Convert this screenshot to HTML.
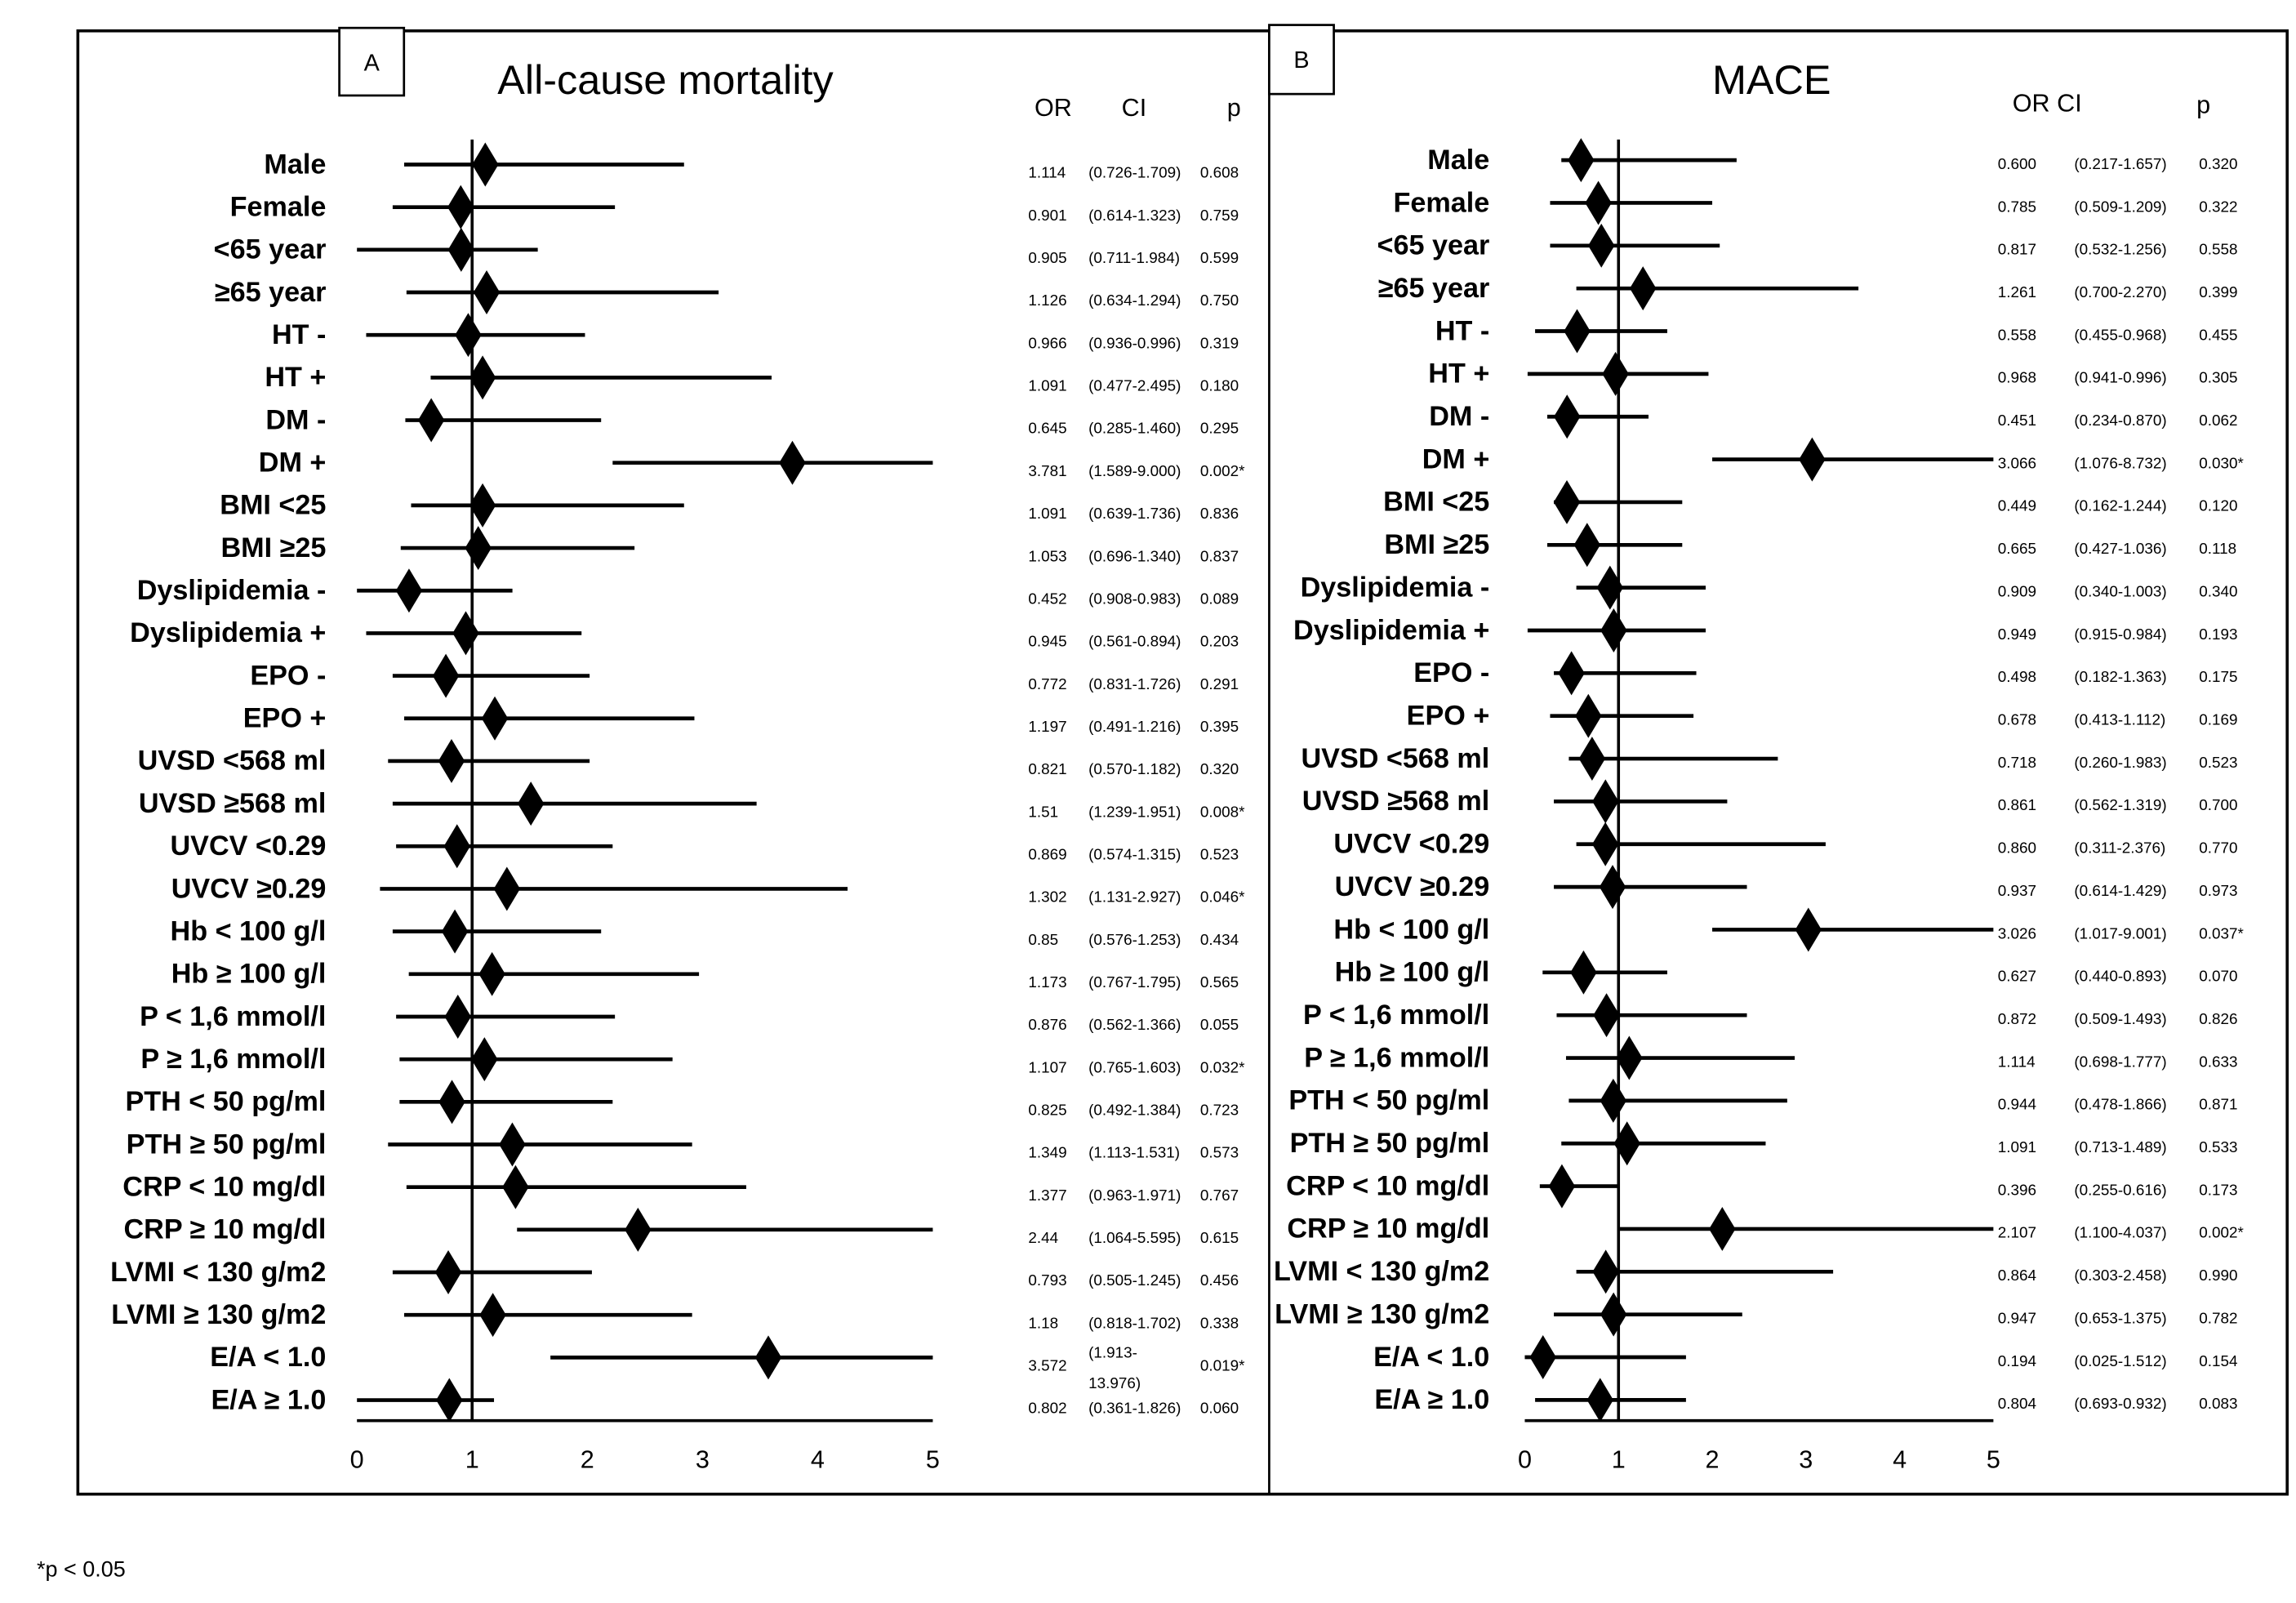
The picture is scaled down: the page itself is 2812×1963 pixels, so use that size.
<!DOCTYPE html>
<html><head><meta charset="utf-8"><style>
html,body{margin:0;padding:0;background:#fff}
svg{display:block}
text{font-family:"Liberation Sans Narrow","Liberation Sans",sans-serif;fill:#000}
.lbl{font-weight:bold;font-size:19px}
.st{font-size:10.5px}
</style></head><body>
<svg id="chart" width="2812" height="1963" viewBox="0 0 1563 1091.1" xmlns="http://www.w3.org/2000/svg">
<rect x="53" y="21" width="1504" height="996" fill="none" stroke="#000" stroke-width="2"/>
<line x1="864" y1="21" x2="864" y2="1017" stroke="#000" stroke-width="1.5"/>
<rect x="231" y="19" width="44" height="46" fill="#fff" stroke="#000" stroke-width="1.5"/>
<text x="253" y="48" text-anchor="middle" font-size="16">A</text>
<rect x="864" y="17" width="44" height="47" fill="#fff" stroke="#000" stroke-width="1.5"/>
<text x="886" y="46" text-anchor="middle" font-size="16">B</text>
<text x="453" y="64" text-anchor="middle" font-size="28">All-cause mortality</text>
<text x="1206" y="64" text-anchor="middle" font-size="28">MACE</text>
<text x="717" y="79" text-anchor="middle" font-size="17">OR</text>
<text x="772" y="79" text-anchor="middle" font-size="17">CI</text>
<text x="840" y="79" text-anchor="middle" font-size="17">p</text>
<text x="1370" y="76" font-size="17">OR CI</text>
<text x="1500" y="77" text-anchor="middle" font-size="17">p</text>
<text x="25" y="1073" font-size="15">*p &lt; 0.05</text>
<g id="plots"></g>
</svg>
<script>
const labels=["Male","Female","<65 year","≥65 year","HT -","HT +","DM -","DM +","BMI <25","BMI ≥25","Dyslipidemia -","Dyslipidemia +","EPO -","EPO +","UVSD <568 ml","UVSD ≥568 ml","UVCV <0.29","UVCV ≥0.29","Hb < 100 g/l","Hb ≥ 100 g/l","P < 1,6 mmol/l","P ≥ 1,6 mmol/l","PTH < 50 pg/ml","PTH ≥ 50 pg/ml","CRP < 10 mg/dl","CRP ≥ 10 mg/dl","LVMI < 130 g/m2","LVMI ≥ 130 g/m2","E/A < 1.0","E/A ≥ 1.0"];
const ticks=[0,1,2,3,4,5];
const aOR=[1.114,0.901,0.905,1.126,0.966,1.091,0.645,3.781,1.091,1.053,0.452,0.945,0.772,1.197,0.821,1.51,0.869,1.302,0.85,1.173,0.876,1.107,0.825,1.349,1.377,2.44,0.793,1.18,3.572,0.802];
const aLo=[0.41,0.31,0,0.43,0.08,0.64,0.42,2.22,0.47,0.38,0,0.08,0.31,0.41,0.27,0.31,0.34,0.2,0.31,0.45,0.34,0.37,0.37,0.27,0.43,1.39,0.31,0.41,1.68,0];
const aHi=[2.84,2.24,1.57,3.14,1.98,3.6,2.12,5,2.84,2.41,1.35,1.95,2.02,2.93,2.02,3.47,2.22,4.26,2.12,2.97,2.24,2.74,2.22,2.91,3.38,5,2.04,2.91,5,1.19];
const aORtxt=["1.114","0.901","0.905","1.126","0.966","1.091","0.645","3.781","1.091","1.053","0.452","0.945","0.772","1.197","0.821","1.51","0.869","1.302","0.85","1.173","0.876","1.107","0.825","1.349","1.377","2.44","0.793","1.18","3.572","0.802"];
const aCI=["(0.726-1.709)","(0.614-1.323)","(0.711-1.984)","(0.634-1.294)","(0.936-0.996)","(0.477-2.495)","(0.285-1.460)","(1.589-9.000)","(0.639-1.736)","(0.696-1.340)","(0.908-0.983)","(0.561-0.894)","(0.831-1.726)","(0.491-1.216)","(0.570-1.182)","(1.239-1.951)","(0.574-1.315)","(1.131-2.927)","(0.576-1.253)","(0.767-1.795)","(0.562-1.366)","(0.765-1.603)","(0.492-1.384)","(1.113-1.531)","(0.963-1.971)","(1.064-5.595)","(0.505-1.245)","(0.818-1.702)","(1.913-|13.976)","(0.361-1.826)"];
const aP=["0.608","0.759","0.599","0.750","0.319","0.180","0.295","0.002*","0.836","0.837","0.089","0.203","0.291","0.395","0.320","0.008*","0.523","0.046*","0.434","0.565","0.055","0.032*","0.723","0.573","0.767","0.615","0.456","0.338","0.019*","0.060"];
const bOR=[0.600,0.785,0.817,1.261,0.558,0.968,0.451,3.066,0.449,0.665,0.909,0.949,0.498,0.678,0.718,0.861,0.860,0.937,3.026,0.627,0.872,1.114,0.944,1.091,0.396,2.107,0.864,0.947,0.194,0.804];
const bLo=[0.39,0.27,0.27,0.55,0.11,0.03,0.24,2.0,0.31,0.24,0.55,0.03,0.31,0.27,0.47,0.31,0.55,0.31,2.0,0.19,0.34,0.44,0.47,0.39,0.16,1.0,0.55,0.31,0,0.11];
const bHi=[2.26,2.0,2.08,3.56,1.52,1.96,1.32,5,1.68,1.68,1.93,1.93,1.83,1.8,2.7,2.16,3.21,2.37,5,1.52,2.37,2.88,2.8,2.57,1.0,5,3.29,2.32,1.72,1.72];
const bORtxt=["0.600","0.785","0.817","1.261","0.558","0.968","0.451","3.066","0.449","0.665","0.909","0.949","0.498","0.678","0.718","0.861","0.860","0.937","3.026","0.627","0.872","1.114","0.944","1.091","0.396","2.107","0.864","0.947","0.194","0.804"];
const bCI=["(0.217-1.657)","(0.509-1.209)","(0.532-1.256)","(0.700-2.270)","(0.455-0.968)","(0.941-0.996)","(0.234-0.870)","(1.076-8.732)","(0.162-1.244)","(0.427-1.036)","(0.340-1.003)","(0.915-0.984)","(0.182-1.363)","(0.413-1.112)","(0.260-1.983)","(0.562-1.319)","(0.311-2.376)","(0.614-1.429)","(1.017-9.001)","(0.440-0.893)","(0.509-1.493)","(0.698-1.777)","(0.478-1.866)","(0.713-1.489)","(0.255-0.616)","(1.100-4.037)","(0.303-2.458)","(0.653-1.375)","(0.025-1.512)","(0.693-0.932)"];
const bP=["0.320","0.322","0.558","0.399","0.455","0.305","0.062","0.030*","0.120","0.118","0.340","0.193","0.175","0.169","0.523","0.700","0.770","0.973","0.037*","0.070","0.826","0.633","0.871","0.533","0.173","0.002*","0.990","0.782","0.154","0.083"];

const NS="http://www.w3.org/2000/svg";
const root=document.getElementById('plots');
function mk(tag,attrs,parent){const e=document.createElementNS(NS,tag);for(const k in attrs)e.setAttribute(k,attrs[k]);(parent||root).appendChild(e);return e;}

function panel(cfg){
  const g=mk('g',{});
  
  
  const x=v=>cfg.x0+v*cfg.unit;
  const y=i=>cfg.y0+i*cfg.step;
  const ax=mk('line',{x1:x(0),y1:967,x2:x(5),y2:967,stroke:'#000','stroke-width':2},g);
  
  
  const ref=mk('line',{x1:x(1),y1:cfg.refTop,x2:x(1),y2:967,stroke:'#000','stroke-width':2},g);
  
  
  ticks.forEach(t=>{
    const tt=mk('text',{x:x(t),y:999,'text-anchor':'middle','font-size':17},g);
    tt.textContent=t;
    
    
  });
  labels.forEach((lab,i)=>{
    const yy=y(i);
    const t=mk('text',{x:cfg.labelX,y:yy+6,'text-anchor':'end','class':'lbl'},g);
    t.textContent=lab;
    
    
    const l=mk('line',{x1:x(cfg.lo[i]),y1:yy,x2:x(cfg.hi[i]),y2:yy,stroke:'#000','stroke-width':2.6},g);
    
    
    const cx=x(cfg.or[i]);
    const d=mk('polygon',{points:`${cx},${yy-15} ${cx+9},${yy} ${cx},${yy+15} ${cx-9},${yy}`,fill:'#000'},g);
    
    
    const sy=yy+cfg.sdy;
    const o=mk('text',{x:cfg.orX,y:sy,'class':'st'},g);
    o.textContent=cfg.orTxt[i];
    
    
    const parts=cfg.ci[i].split('|');
    parts.forEach((p,k)=>{
      const c=mk('text',{x:cfg.ciX,y:sy+(parts.length>1?(k===0?-9:12):0),'class':'st'},g);
      c.textContent=p;
      
      
    });
    const pp=mk('text',{x:cfg.pX,y:sy,'class':'st'},g);
    pp.textContent=cfg.p[i];
    
    
  });
}
panel({name:'panel-a-all-cause-mortality',x0:243,unit:78.4,y0:112,step:29.0,refTop:95,labelX:222,lo:aLo,hi:aHi,or:aOR,orTxt:aORtxt,ci:aCI,p:aP,orX:700,ciX:741,pX:817,sdy:9});
panel({name:'panel-b-mace',x0:1038,unit:63.8,y0:109,step:29.1,refTop:95,labelX:1014,lo:bLo,hi:bHi,or:bOR,orTxt:bORtxt,ci:bCI,p:bP,orX:1360,ciX:1412,pX:1497,sdy:6});
</script>
</body></html>
